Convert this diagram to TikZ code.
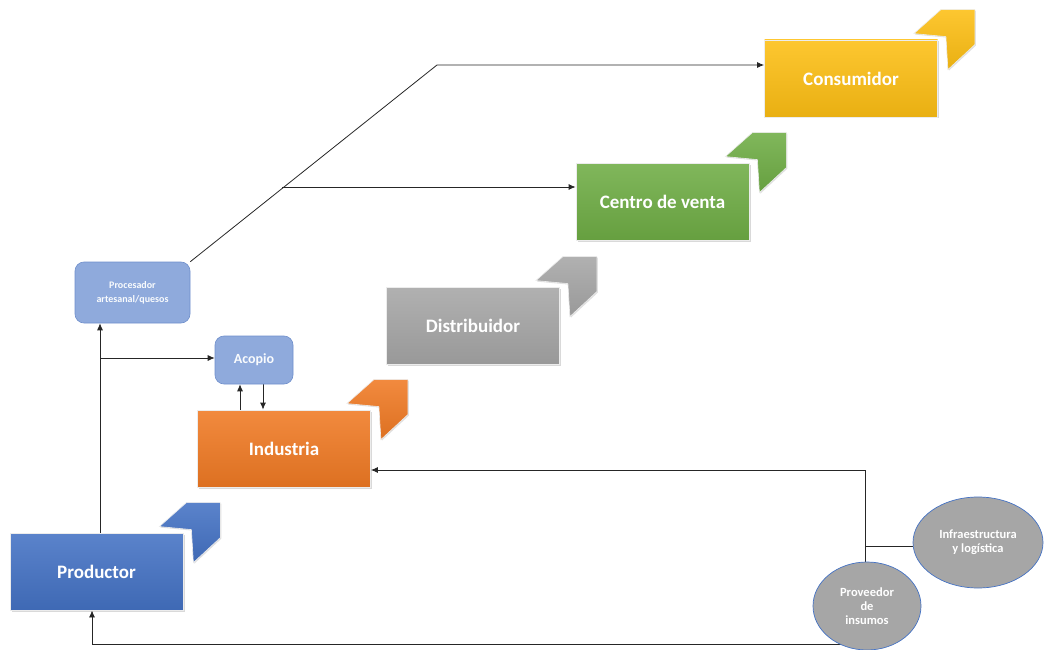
\documentclass[tikz,border=0pt]{standalone}
\usepackage{fontspec}
\setmainfont{Carlito}
\usetikzlibrary{arrows.meta,shapes.geometric,shadows}
\pgfdeclarelayer{background}
\pgfsetlayers{background,main}
\definecolor{prodblue}{HTML}{4472C4}
\definecolor{indorange}{HTML}{F07A24}
\definecolor{distgray}{HTML}{A6A6A6}
\definecolor{cengreen}{HTML}{6FAD45}
\definecolor{conyellow}{HTML}{FDBF14}
\definecolor{minorblue}{HTML}{8FAADC}
\definecolor{minoredge}{HTML}{6F8FCB}
\tikzstyle{stage}=[rectangle,draw=white!85!gray,line width=0.8pt,minimum width=173pt,minimum height=77pt,inner sep=0pt,text=white,font=\fontsize{19}{22}\selectfont\bfseries,drop shadow={shadow xshift=1.5pt,shadow yshift=-1.5pt,opacity=0.3}]
\tikzstyle{chevron}=[draw=white!85!gray,line width=0.6pt,drop shadow={shadow xshift=1pt,shadow yshift=-1pt,opacity=0.25}]
\tikzstyle{minor}=[rectangle,rounded corners=9pt,fill=minorblue,draw=minoredge,line width=0.6pt,inner sep=0pt,text=white!95!minorblue,align=center]
\tikzstyle{support}=[ellipse,fill=distgray,draw=prodblue,line width=0.7pt,inner sep=0pt,text=white,align=center,font=\fontsize{12.5}{14}\selectfont\bfseries]
\tikzstyle{edge} = [draw,line width=0.8pt,black!85,-{Latex[length=7pt,width=6pt]}]
\tikzstyle{line} = [draw,line width=0.8pt,black!85]

\begin{document}
\begin{tikzpicture}[x=1pt,y=-1pt]
\useasboundingbox (0,0) rectangle (1044,650);
% First we draw the stages of the chain
\foreach \pos/\name/\col/\txt in {{(96.5,571.5)/prod/prodblue/Productor}, {(284,448.5)/ind/indorange/Industria},
                                  {(473,325.5)/dist/distgray/Distribuidor}, {(662.5,201.5)/cen/cengreen/Centro de venta},
                                  {(851,78.5)/con/conyellow/Consumidor}}
\node[stage, top color=\col!88!white, bottom color=\col!92!black] (\name) at \pos {\txt};

% small boxes and the two supports
\node[minor, minimum width=115pt, minimum height=61pt, font=\fontsize{10}{14}\selectfont\bfseries] (proc) at (132.5,292.5) {Procesador\\artesanal/quesos};
\node[minor, minimum width=78pt, minimum height=48pt, font=\fontsize{14}{16}\selectfont\bfseries] (aco) at (254,360) {Acopio};
\node[support, minimum width=130pt, minimum height=91pt] (infra) at (978,542.5) {Infraestructura\\y logística};
\node[support, minimum width=108pt, minimum height=88pt] (prov) at (867,606) {Proveedor\\de\\insumos};

\begin{pgfonlayer}{background}
% chevrons behind each stage
\foreach \name/\col in {prod/prodblue, ind/indorange, dist/distgray, cen/cengreen, con/conyellow}
\path[chevron, top color=\col!88!white, bottom color=\col!92!black, shift={(\name.north east)}]
  (-24,-6) -- (3,-30) -- (37,-30) -- (37,5) -- (10,30) -- (8,-3) -- cycle;

% Connect the boxes
\coordinate (split) at (100,358);
\coordinate (bend) at (437,65);
\coordinate (fork) at (282,187);
\coordinate (feed) at (865,470);
\coordinate (link) at (865,546);
\coordinate (back) at (92,644);

\path[edge] ([xshift=3.5pt]prod.north) -- ([xshift=3.5pt]prod.north |- proc.south);
\path[edge] (split) -- (split -| aco.west);
\path[edge] ([xshift=-14pt]aco.south |- ind.north) -- ([xshift=-14pt]aco.south);
\path[edge] ([xshift=9pt]aco.south) -- ([xshift=9pt]aco.south |- ind.north);
\path[edge] (proc.north east) -- (bend) -- (bend -| con.west);
\path[edge] (fork) -- (fork -| cen.west);
\path[edge] (feed) -- (feed -| ind.east);
\path[line] (feed) -- (feed |- prov.north);
\path[line] (link) -- (link -| infra.west);
\path[edge] (back -| prov.center) -| ([xshift=-4.5pt]prod.south);
\end{pgfonlayer}
\end{tikzpicture}
\end{document}
